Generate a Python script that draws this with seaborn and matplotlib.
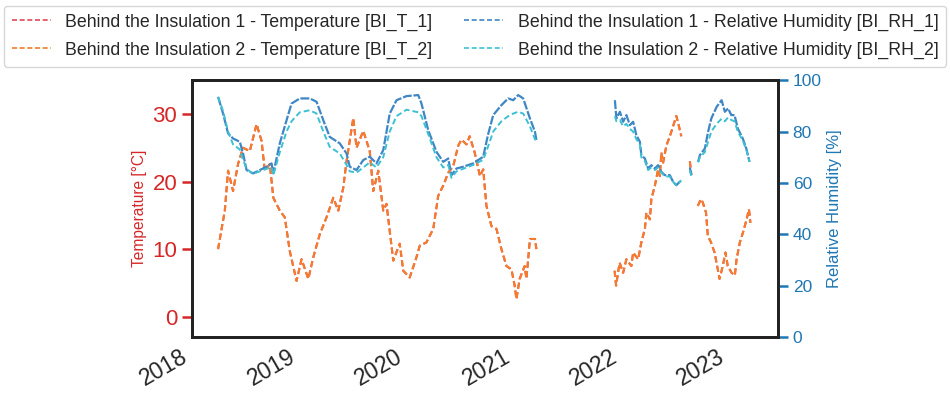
import numpy as np
import pandas as pd
import matplotlib
matplotlib.use("Agg")
import matplotlib.pyplot as plt
import matplotlib.dates as mdates
import seaborn as sns

# temperature readings (BI_T_1 and BI_T_2 lie on top of each other), NaN = logger gap
temp_dates = [
    "2018-03-31", "2018-04-23", "2018-05-04", "2018-05-21", "2018-06-07", "2018-06-24",
    "2018-07-17", "2018-08-09", "2018-08-26", "2018-09-06", "2018-09-23", "2018-10-05",
    "2018-10-27", "2018-11-13", "2018-11-30", "2018-12-23", "2019-01-09", "2019-02-01",
    "2019-02-18", "2019-03-12", "2019-04-04", "2019-04-27", "2019-05-14", "2019-05-31",
    "2019-06-11", "2019-07-04", "2019-07-15", "2019-08-07", "2019-08-29", "2019-09-10",
    "2019-09-27", "2019-10-14", "2019-10-25", "2019-11-17", "2019-12-09", "2019-12-21",
    "2020-01-12", "2020-02-04", "2020-02-15", "2020-03-09", "2020-04-01", "2020-04-18",
    "2020-05-05", "2020-05-22", "2020-06-08", "2020-06-25", "2020-07-06", "2020-07-23",
    "2020-08-03", "2020-08-20", "2020-09-07", "2020-09-18", "2020-09-29", "2020-10-16",
    "2020-11-02", "2020-11-19", "2020-12-06", "2020-12-23", "2021-01-03", "2021-01-09",
    "2021-01-20", "2021-02-06", "2021-02-12", "2021-02-24", "2021-03-13", "2021-03-18",
    "2021-06-01",
    "2021-12-09", "2021-12-14", "2021-12-26", "2022-01-07", "2022-01-18", "2022-02-04",
    "2022-02-10", "2022-02-27", "2022-03-10", "2022-03-22", "2022-03-27", "2022-04-08",
    "2022-04-13", "2022-04-25", "2022-05-06", "2022-05-12", "2022-05-17", "2022-05-23",
    "2022-06-03", "2022-06-15", "2022-06-26", "2022-07-07", "2022-07-13", "2022-07-24",
    "2022-08-05",
    "2022-08-22", "2022-08-27",
    "2022-09-05",
    "2022-09-18", "2022-09-29", "2022-10-05", "2022-10-16", "2022-10-22", "2022-11-02",
    "2022-11-14", "2022-11-25", "2022-12-01", "2022-12-12", "2022-12-21", "2022-12-29",
    "2023-01-11", "2023-01-22", "2023-01-28", "2023-02-08", "2023-02-19", "2023-03-03",
    "2023-03-11", "2023-03-16",
]
temp_vals = [
    10.0, 15.7, 21.6, 18.6, 22.6, 25.0,
    24.5, 28.5, 26.0, 21.6, 22.6, 17.6,
    15.7, 14.7, 9.7, 5.3, 8.5, 5.6,
    8.8, 12.2, 14.7, 17.6, 15.7, 19.1,
    23.0, 29.4, 25.0, 27.5, 24.5, 18.6,
    21.6, 15.7, 16.7, 8.3, 10.8, 6.8,
    5.8, 8.8, 10.5, 11.0, 13.0, 17.9,
    19.4, 21.3, 22.3, 25.3, 26.2, 25.5,
    26.7, 24.3, 20.8, 21.8, 16.4, 13.4,
    13.0, 10.0, 7.5, 7.0, 4.6, 2.6,
    5.6, 7.5, 5.6, 11.5, 11.5, 10.0,
    np.nan,
    6.8, 4.6, 8.0, 6.5, 8.5, 7.5,
    9.5, 8.5, 11.0, 13.0, 15.4, 14.4,
    17.4, 19.4, 21.8, 20.8, 24.3, 22.8,
    25.3, 26.7, 28.2, 29.7, 28.7, 26.7,
    np.nan,
    23.0, 21.0,
    np.nan,
    16.4, 17.4, 16.9, 15.4, 12.0, 11.0,
    9.5, 7.0, 5.6, 7.5, 9.5, 7.5,
    6.5, 6.1, 8.5, 11.0, 12.5, 14.4,
    15.9, 13.9,
]

# relative humidity readings
rh_dates = [
    "2018-03-31", "2018-04-17", "2018-05-04", "2018-05-21", "2018-06-13", "2018-06-24",
    "2018-07-06", "2018-07-28", "2018-08-20", "2018-09-12", "2018-09-29", "2018-10-05",
    "2018-10-27", "2018-11-19", "2018-12-06", "2019-01-03", "2019-02-06", "2019-03-01",
    "2019-03-24", "2019-04-15", "2019-05-19", "2019-06-11", "2019-06-22", "2019-07-15",
    "2019-08-07", "2019-08-29", "2019-09-21", "2019-10-14", "2019-11-05", "2019-11-28",
    "2020-01-01", "2020-02-10", "2020-02-21", "2020-03-15", "2020-04-12", "2020-05-05",
    "2020-05-22", "2020-06-02", "2020-06-19", "2020-07-12", "2020-08-15", "2020-09-18",
    "2020-10-04", "2020-10-22", "2020-11-19", "2020-12-12", "2020-12-29", "2021-01-15",
    "2021-02-01", "2021-02-24", "2021-03-13", "2021-03-18",
    "2021-06-01",
    "2021-12-10", "2021-12-15", "2021-12-27", "2022-01-07", "2022-01-18", "2022-01-30",
    "2022-02-10", "2022-02-21", "2022-03-05", "2022-03-10", "2022-03-22", "2022-04-02",
    "2022-04-13", "2022-04-25", "2022-05-06", "2022-05-17", "2022-05-29", "2022-06-15",
    "2022-06-26", "2022-07-07", "2022-07-24",
    "2022-08-05",
    "2022-08-22", "2022-08-27",
    "2022-09-05",
    "2022-09-19", "2022-09-25", "2022-10-12", "2022-10-23", "2022-11-03", "2022-11-21",
    "2022-12-08", "2022-12-19", "2022-12-30", "2023-01-10", "2023-01-21", "2023-02-01",
    "2023-02-18", "2023-03-02", "2023-03-13",
]
rh1_vals = [
    93.5, 87.0, 79.3, 77.3, 76.0, 71.5,
    65.0, 63.7, 65.0, 66.3, 67.6, 63.7,
    75.4, 84.4, 90.9, 92.9, 92.9, 91.6,
    84.4, 77.9, 75.4, 71.5, 66.3, 65.0,
    68.9, 70.2, 67.6, 72.8, 87.0, 92.2,
    93.8, 94.2, 90.9, 80.5, 72.1, 68.2,
    69.5, 63.0, 65.6, 66.3, 67.6, 70.2,
    78.6, 86.4, 90.3, 92.9, 92.2, 94.2,
    92.9, 85.1, 79.9, 76.7,
    np.nan,
    92.2, 85.1, 87.7, 83.8, 86.4, 82.5,
    83.8, 78.6, 76.0, 70.8, 69.5, 65.6,
    66.9, 65.6, 66.9, 64.3, 63.0, 63.0,
    60.4, 59.1, 61.1,
    np.nan,
    66.0, 63.0,
    np.nan,
    68.2, 70.8, 73.4, 79.9, 85.1, 89.6,
    92.2, 87.7, 89.0, 86.4, 86.4, 81.2,
    77.3, 73.4, 68.2,
]
rh2_vals = [
    93.5, 88.0, 80.0, 75.0, 73.0, 69.0,
    65.5, 63.5, 64.5, 65.5, 66.0, 63.0,
    72.0, 80.0, 84.0, 87.5, 88.3, 87.0,
    80.0, 74.0, 71.5, 67.0, 64.5, 64.0,
    66.0, 68.0, 66.0, 70.0, 80.0, 86.0,
    88.5, 87.5, 86.0, 79.0, 70.0, 66.0,
    67.0, 62.0, 64.5, 65.5, 67.0, 69.0,
    74.0, 80.0, 84.0, 86.0, 87.0, 87.7,
    87.0, 82.0, 77.0, 75.5,
    np.nan,
    86.0, 84.0, 84.5, 82.0, 83.0, 81.0,
    80.0, 77.0, 75.0, 70.0, 68.5, 65.0,
    66.0, 65.0, 66.0, 64.0, 62.5, 62.5,
    60.4, 59.1, 61.0,
    np.nan,
    65.0, 62.5,
    np.nan,
    68.0, 70.0, 72.0, 76.0, 80.0, 83.0,
    85.0, 84.0, 85.5, 84.5, 84.0, 80.0,
    76.5, 73.0, 68.2,
]

labels = [
    "Behind the Insulation 1 - Temperature [BI_T_1]",
    "Behind the Insulation 2 - Temperature [BI_T_2]",
    "Behind the Insulation 1 - Relative Humidity [BI_RH_1]",
    "Behind the Insulation 2 - Relative Humidity [BI_RH_2]",
]
colors = ["#e0485a", "#f57c2a", "#3f86c4", "#3cc0d2"]


def segments(dates, vals):
    # split at the NaN gaps so seaborn draws separate pieces
    df = pd.DataFrame({"date": pd.to_datetime(dates), "val": vals})
    df["seg"] = df["val"].isna().cumsum()
    return df.dropna()


temp_df = segments(temp_dates, temp_vals)
rh1_df = segments(rh_dates, rh1_vals)
rh2_df = segments(rh_dates, rh2_vals)

sns.set_theme(style="ticks")
plt.rcParams["font.family"] = ["Liberation Sans", "DejaVu Sans"]

red = "#d62728"
blue = "#1f77b4"

fig, ax = plt.subplots(figsize=(9.5, 4.05), dpi=100)
fig.subplots_adjust(left=0.202, right=0.819, bottom=0.168, top=0.802)
ax2 = ax.twinx()

dash = (3, 1.6)
sns.lineplot(data=temp_df, x="date", y="val", units="seg", estimator=None, ax=ax,
             color=colors[0], lw=1.5, dashes=False, linestyle=(0, dash))
sns.lineplot(data=temp_df, x="date", y="val", units="seg", estimator=None, ax=ax,
             color=colors[1], lw=1.5, dashes=False, linestyle=(0, dash))
sns.lineplot(data=rh1_df, x="date", y="val", units="seg", estimator=None, ax=ax2,
             color=colors[2], lw=1.6, dashes=False, linestyle=(0, (4, 0.8)))
sns.lineplot(data=rh2_df, x="date", y="val", units="seg", estimator=None, ax=ax2,
             color=colors[3], lw=1.4, dashes=False, linestyle=(0, dash))

ax.set_xlim(pd.Timestamp("2018-01-01"), pd.Timestamp("2023-06-18"))
ax.set_ylim(-3, 35)
ax2.set_ylim(0, 100)
ax.set_yticks([0, 10, 20, 30])
ax2.set_yticks([0, 20, 40, 60, 80, 100])

ax.set_xlabel("")
ax.set_ylabel("Temperature [°C]", color=red, fontsize=11.2)
ax2.set_ylabel("Relative Humidity [%]", color=blue, fontsize=12)
ax.tick_params(axis="y", colors=red, labelsize=16, width=1.8, length=7)
ax2.tick_params(axis="y", colors=blue, labelsize=12.5, width=1.8, length=7)
for t in ax.get_yticklines() + ax2.get_yticklines():
    t.set_color("#222222")

ax.xaxis.set_major_locator(mdates.YearLocator())
ax.xaxis.set_major_formatter(mdates.DateFormatter("%Y"))
ax.tick_params(axis="x", length=0, labelsize=16.5, pad=6)
plt.setp(ax.get_xticklabels(), rotation=30, ha="right")

for a in (ax, ax2):
    for s in a.spines.values():
        s.set_linewidth(2)
        s.set_color("#222222")

handles = [plt.Line2D([], [], color=c, lw=1.2, linestyle=(0, (3, 1.6))) for c in colors]
fig.legend(handles, labels,
           loc="upper center", bbox_to_anchor=(0.5, 0.995), ncol=2,
           fontsize=12.8, frameon=True, handlelength=2.2, handletextpad=0.8,
           columnspacing=1.8, borderaxespad=0.2, labelspacing=0.6, borderpad=0.45)

fig.savefig("out.png", dpi=100)
